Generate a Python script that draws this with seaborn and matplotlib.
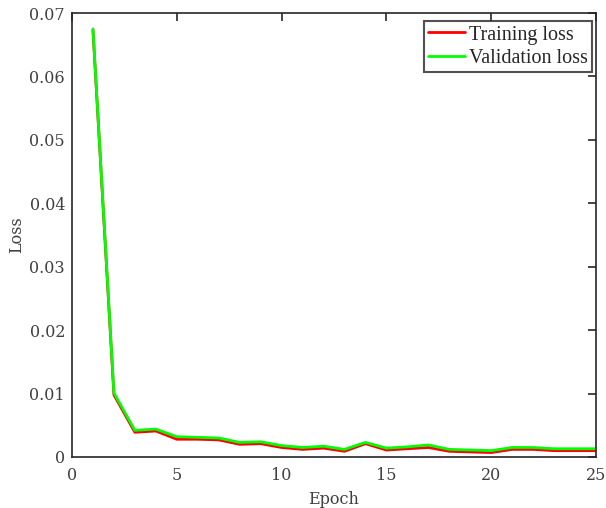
import matplotlib
matplotlib.use("Agg")
import matplotlib.pyplot as plt
import seaborn as sns
import pandas as pd

epochs = list(range(1, 26))
train_loss = [0.0673, 0.0098, 0.0039, 0.0041, 0.0028, 0.0028, 0.0027, 0.0020, 0.0021, 0.0015,
              0.0012, 0.0014, 0.0009, 0.0021, 0.0011, 0.0013, 0.0015, 0.0009, 0.0008, 0.0007,
              0.0012, 0.0012, 0.0010, 0.0010, 0.0010]
val_loss = [0.0675, 0.0101, 0.0042, 0.0044, 0.0032, 0.0031, 0.0030, 0.0023, 0.0024, 0.0018,
            0.0015, 0.0017, 0.0012, 0.0023, 0.0014, 0.0016, 0.0019, 0.0012, 0.0011, 0.0010,
            0.0015, 0.0015, 0.0013, 0.0013, 0.0013]
series_names = ["Training loss", "Validation loss"]
colors = ["#ff0000", "#00ff00"]

df = pd.DataFrame({
    "Epoch": epochs * 2,
    "Loss": train_loss + val_loss,
    "Series": [series_names[0]] * len(epochs) + [series_names[1]] * len(epochs),
})

sns.set_style("white")
fig = plt.figure(figsize=(6.06, 5.08), dpi=100)
ax = fig.add_axes([0.1188, 0.1004, 0.8647, 0.8740])
sns.lineplot(data=df, x="Epoch", y="Loss", hue="Series", palette=colors,
             linewidth=2, ax=ax, legend=True)

ax.set_xlim(0, 25)
ax.set_ylim(0, 0.07)
ax.set_xticks([0, 5, 10, 15, 20, 25])
ax.set_yticks([0, 0.01, 0.02, 0.03, 0.04, 0.05, 0.06, 0.07])
ax.set_yticklabels(["0", "0.01", "0.02", "0.03", "0.04", "0.05", "0.06", "0.07"])
ax.tick_params(direction="in", length=6, width=1.2, top=True, right=True,
               labelsize=11.5, labelcolor="#404040", color="#262626")
ax.tick_params(axis="x", pad=7)
ax.tick_params(axis="y", pad=5)
for lab in ax.get_xticklabels() + ax.get_yticklabels():
    lab.set_fontfamily("DejaVu Serif")
for sp in ax.spines.values():
    sp.set_color("#262626")
    sp.set_linewidth(1.2)
    sp.set_visible(True)
ax.set_xlabel("Epoch", fontsize=11.5, color="#404040", family="DejaVu Serif", labelpad=5)
ax.set_ylabel("Loss", fontsize=11.5, color="#404040", family="DejaVu Serif", labelpad=3)

leg = ax.legend(loc="upper right", bbox_to_anchor=(0.9924, 0.982),
                prop={"family": "Liberation Serif", "size": 14.5},
                frameon=True, fancybox=False, edgecolor="#262626", handlelength=1.8,
                handletextpad=0.2, borderpad=0.22, labelspacing=0.2, borderaxespad=0)
leg.get_frame().set_linewidth(1.5)

fig.savefig("out.png", dpi=100)
